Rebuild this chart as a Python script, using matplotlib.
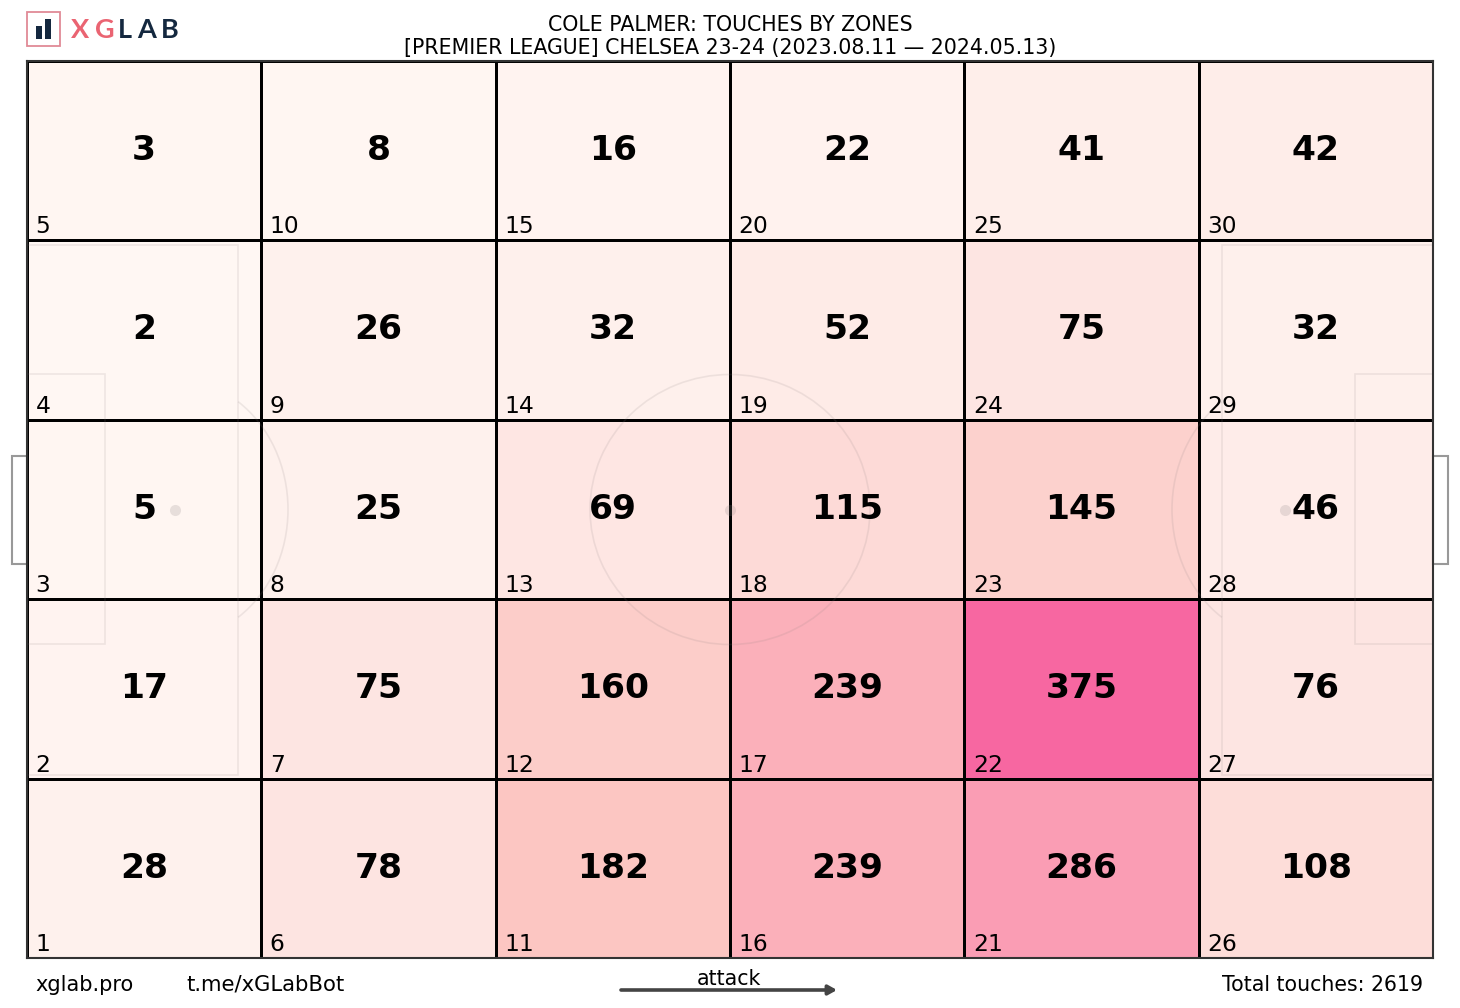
import matplotlib
matplotlib.use('Agg')
import matplotlib.pyplot as plt
import numpy as np
from matplotlib.patches import Rectangle, Arc

W, H = 1460, 1008

# touches per zone, one list per column (left to right), bottom row first
col_1 = [28, 17, 5, 2, 3]
col_2 = [78, 75, 25, 26, 8]
col_3 = [182, 160, 69, 32, 16]
col_4 = [239, 239, 115, 52, 22]
col_5 = [286, 375, 145, 75, 41]
col_6 = [108, 76, 46, 32, 42]

title_1 = 'COLE PALMER: TOUCHES BY ZONES'
title_2 = '[PREMIER LEAGUE] CHELSEA 23-24 (2023.08.11 — 2024.05.13)'
total_text = 'Total touches: 2619'

LENGTH, WIDTH = 105, 68
LINE = '#8a7f80'

values = np.array([col_1, col_2, col_3, col_4, col_5, col_6]).T
n_rows, n_cols = values.shape

fig = plt.figure(figsize=(W / 100, H / 100), dpi=100)
ax = fig.add_axes([27 / W, 1 - 958 / H, 1406 / W, 897 / H])

x_edges = np.linspace(0, LENGTH, n_cols + 1)
y_edges = np.linspace(0, WIDTH, n_rows + 1)
ax.pcolormesh(x_edges, y_edges, values, cmap='RdPu', vmin=0, vmax=750,
              edgecolors='black', linewidth=0.9, zorder=1)

# pitch markings
px = LENGTH / 1406
py = WIDTH / 897
mid = WIDTH / 2
mark = dict(fill=False, edgecolor=LINE, linewidth=1.2, alpha=0.14, zorder=2)
for side in [0, 1]:
    box_x = 211 * px
    six_x = 78 * px
    spot_x = 148 * px
    if side:
        box_x, six_x, spot_x = LENGTH - box_x, LENGTH - six_x, LENGTH - spot_x
        start = LENGTH
    else:
        start = 0
    ax.add_patch(Rectangle((start, mid - 265 * py), box_x - start, 530 * py, **mark))
    ax.add_patch(Rectangle((start, mid - 135 * py), six_x - start, 270 * py, **mark))
    ax.plot(spot_x, mid, 'o', color=LINE, alpha=0.2, ms=8, mew=0, zorder=2)
    theta = 60
    t1, t2 = (-theta, theta) if not side else (180 - theta, 180 + theta)
    ax.add_patch(Arc((spot_x, mid), 226 * px, 260 * py, theta1=t1, theta2=t2,
                     edgecolor=LINE, linewidth=1.2, alpha=0.14, zorder=2))
    # goals sit outside the frame
    goal_x = -15 * px if not side else LENGTH
    ax.add_patch(Rectangle((goal_x, mid - 54 * py), 15 * px, 108 * py, fill=False,
                           edgecolor='#999999', linewidth=1.5, clip_on=False, zorder=2))

ax.add_patch(Arc((LENGTH / 2, mid), 280 * px, 270 * py, edgecolor=LINE,
                 linewidth=1.2, alpha=0.14, zorder=2))
ax.plot(LENGTH / 2, mid, 'o', color=LINE, alpha=0.2, ms=8, mew=0, zorder=2)

# zone numbers and counts
for c in range(n_cols):
    for r in range(n_rows):
        xc = (x_edges[c] + x_edges[c + 1]) / 2
        yc = (y_edges[r] + y_edges[r + 1]) / 2
        ax.text(xc, yc + 0.2 * py, str(values[r, c]), ha='center', va='center', fontsize=24.8,
                fontweight='bold', color='black', zorder=3)
        ax.text(x_edges[c] + 8.5 * px, y_edges[r] + 7 * py, str(c * n_rows + r + 1),
                ha='left', va='baseline', fontsize=16.8, color='black', zorder=3)

ax.set_xlim(0, LENGTH)
ax.set_ylim(0, WIDTH)
ax.set_xticks([])
ax.set_yticks([])
for spine in ax.spines.values():
    spine.set_linewidth(1.5)
    spine.set_color('#333333')
    spine.set_zorder(4)


def fx(x):
    return x / W


def fy(y):
    return 1 - y / H


# header
fig.text(fx(730), fy(25), title_1, ha='center', va='center', fontsize=14.8)
fig.text(fx(730), fy(48), title_2, ha='center', va='center', fontsize=14.8)

# logo
fig.add_artist(Rectangle((fx(27), fy(46)), 33 / W, 34 / H, fill=False, edgecolor='#e08a96',
                         linewidth=1.3, transform=fig.transFigure))
fig.add_artist(Rectangle((fx(36), fy(39)), 6 / W, 13 / H, facecolor='#14283f', edgecolor='none',
                         transform=fig.transFigure))
fig.add_artist(Rectangle((fx(45), fy(39)), 6 / W, 20 / H, facecolor='#14283f', edgecolor='none',
                         transform=fig.transFigure))
logo_letters = ['X', 'G', 'L', 'A', 'B']
logo_x = [80.5, 104.5, 125, 146.5, 170]
logo_colors = ['#ea6472', '#ea6472', '#14283f', '#14283f', '#14283f']
for letter, x, color in zip(logo_letters, logo_x, logo_colors):
    fig.text(fx(x), fy(38), letter, ha='center', va='baseline', fontsize=19.5,
             fontweight='bold', family='Lato', color=color)

# footer
fig.text(fx(35), fy(991), 'xglab.pro', ha='left', va='baseline', fontsize=15)
fig.text(fx(186), fy(991), 't.me/xGLabBot', ha='left', va='baseline', fontsize=15.2)
fig.text(fx(1423), fy(991), total_text, ha='right', va='baseline', fontsize=14.8)
fig.text(fx(729), fy(985), 'attack', ha='center', va='baseline', fontsize=14.8)
fig.add_artist(plt.Annotation('', xy=(fx(837), fy(990)), xytext=(fx(621), fy(990)),
                              xycoords='figure fraction', textcoords='figure fraction',
                              arrowprops=dict(arrowstyle='-|>,head_width=0.28,head_length=0.5',
                                              color='#444444', lw=2.6, shrinkA=0, shrinkB=0)))

fig.savefig('out.png', dpi=100)
